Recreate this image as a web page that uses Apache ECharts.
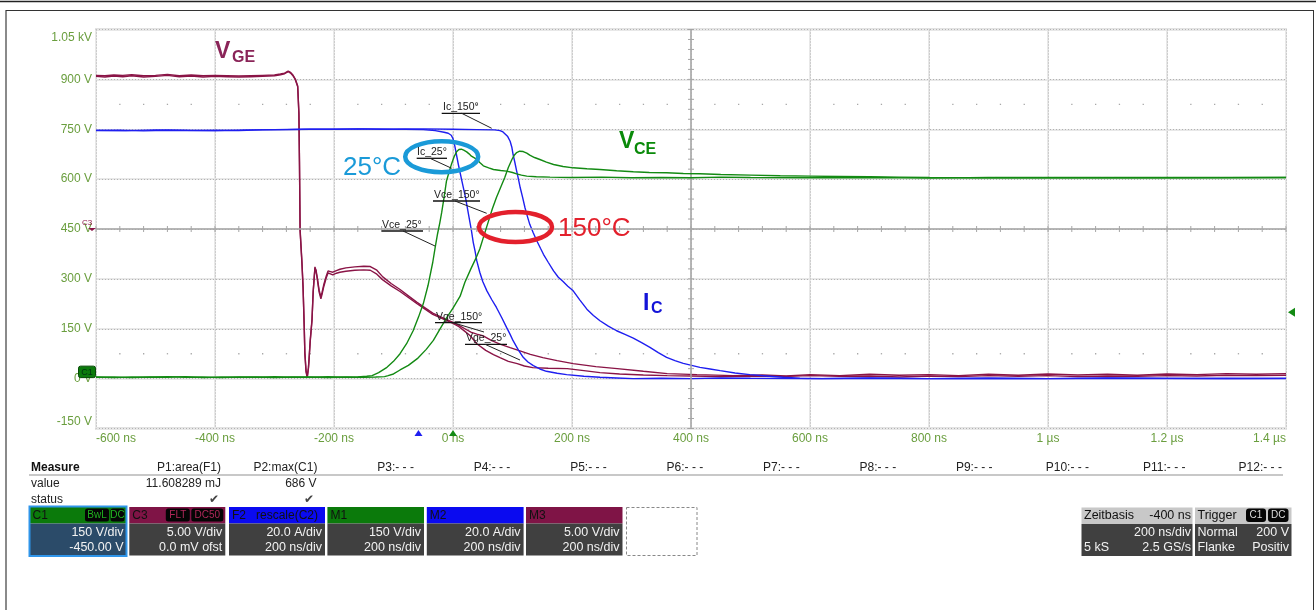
<!DOCTYPE html>
<html><head><meta charset="utf-8">
<script src="https://cdn.jsdelivr.net/npm/echarts@6/dist/echarts.min.js"></script>
<style>html,body{margin:0;padding:0;background:#fff}#c{width:1316px;height:610px}</style>
</head><body><div id="c"></div>
<script>
// ---------- axis ticks ----------
const xTicks = [-600,-400,-200,0,200,400,600,800,1000,1200,1400];
const xTickLabels = ['-600 ns','-400 ns','-200 ns','0 ns','200 ns','400 ns','600 ns','800 ns','1 µs','1.2 µs','1.4 µs'];
const yTicks = [-150,0,150,300,450,600,750,900,1050];
const yTickLabels = ['-150 V','0 V','150 V','300 V','450 V','600 V','750 V','900 V','1.05 kV'];

// ---------- traces [time ns, value in axis units] ----------
const vce25 = [[-600,4],[-570,5],[-540,3],[-510,5],[-480,4],[-450,6],[-420,3],[-390,5],[-360,4],[-330,5],[-300,3],[-270,5],[-240,4],[-210,6],[-180,4],[-160,5],[-145,7],[-136,9],[-125,18],[-111,34],[-100,52],[-89,75],[-78,105],[-67,144],[-58,185],[-50,225],[-42,280],[-34,350],[-30,394],[-26,435],[-22,470],[-19,500],[-15,545],[-11,594],[-6,625],[-2,648],[2,668],[6,682],[10,689],[14,690],[18,687],[23,682],[27,676],[31,669],[36,664],[40,659],[45,650],[51,640],[60,634],[68,629],[80,626],[90,624],[100,620],[107,616],[115,612],[124,609],[140,607],[163,606],[200,605],[250,606],[300,604],[350,605],[400,604],[450,606],[500,605],[600,604],[700,605],[800,603],[900,605],[1000,604],[1100,605],[1200,604],[1300,605],[1400,605]];
const vce150 = [[-600,5],[-570,3],[-540,5],[-510,4],[-480,6],[-450,4],[-420,5],[-390,3],[-360,5],[-330,4],[-300,6],[-270,4],[-240,5],[-210,3],[-180,5],[-150,4],[-130,5],[-115,6],[-109,9],[-100,14],[-89,26],[-75,40],[-60,60],[-45,88],[-33,115],[-22,149],[-10,185],[0,212],[12,248],[20,290],[30,330],[38,360],[45,390],[52,430],[59,470],[66,510],[73,545],[80,575],[87,605],[93,635],[99,659],[103,672],[107,680],[112,684],[118,683],[124,678],[129,672],[137,665],[146,659],[157,651],[169,644],[185,638],[202,634],[225,631],[247,629],[275,625],[303,622],[330,620],[359,619],[387,617],[415,616],[450,614],[500,612],[550,610],[600,609],[650,608],[700,607],[750,606],[800,605],[900,604],[1000,605],[1100,604],[1200,605],[1300,604],[1400,605]];
const ic25 = [[-600,746],[-560,747],[-520,745],[-480,747],[-440,746],[-400,747],[-360,746],[-320,748],[-280,749],[-240,750],[-200,750],[-160,751],[-120,750],[-80,750],[-50,749],[-30,746],[-15,741],[-8,738],[-3,732],[0,722],[3,700],[9,644],[15,594],[21,545],[26,495],[31,445],[34,410],[37,384],[40,354],[45,320],[50,292],[57,264],[65,238],[73,214],[82,183],[90,154],[96,133],[101,114],[110,86],[118,64],[126,50],[135,39],[146,29],[157,22],[175,16],[191,12],[220,7],[247,4],[275,2],[303,0],[350,1],[400,0],[450,2],[500,1],[600,0],[700,1],[800,0],[900,1],[1000,0],[1100,1],[1200,0],[1300,1],[1400,0]];
const ic150 = [[-600,747],[-550,746],[-500,748],[-450,747],[-400,746],[-350,748],[-300,749],[-250,750],[-200,750],[-150,751],[-100,750],[-50,751],[0,750],[40,749],[70,748],[79,746],[84,742],[87,738],[92,728],[96,714],[99,695],[101,674],[104,650],[107,624],[110,600],[113,574],[117,545],[121,514],[125,488],[129,464],[135,438],[141,414],[147,392],[152,374],[160,350],[169,324],[177,305],[185,292],[193,278],[202,264],[213,237],[225,209],[236,190],[247,174],[261,158],[275,144],[289,133],[303,122],[317,108],[331,94],[345,78],[359,64],[373,54],[387,46],[401,40],[415,34],[432,29],[449,24],[474,17],[499,12],[527,8],[555,4],[583,1],[620,0],[700,2],[800,0],[900,1],[1000,0],[1100,2],[1200,1],[1300,0],[1400,1]];
const vge25 = [[-600,909],[-585,907],[-570,910],[-555,908],[-540,911],[-520,907],[-500,909],[-480,912],[-460,908],[-440,910],[-420,907],[-400,909],[-380,908],[-360,907],[-340,908],[-320,909],[-300,911],[-290,914],[-283,917],[-277,923],[-273,919],[-269,911],[-265,899],[-261,878],[-259,795],[-258,640],[-257,444],[-254,350],[-252,273],[-250,150],[-249,75],[-247,20],[-245,3],[-243,30],[-242,54],[-240,110],[-237,174],[-235,260],[-232,333],[-230,326],[-228,298],[-225,260],[-222,240],[-220,254],[-217,278],[-213,303],[-210,318],[-206,315],[-202,312],[-196,317],[-190,320],[-180,323],[-165,326],[-150,327],[-139,326],[-128,314],[-118,297],[-104,279],[-89,262],[-75,244],[-61,226],[-47,209],[-34,193],[-17,180],[0,166],[10,156],[20,142],[29,129],[40,105],[55,85],[68,72],[79,63],[93,52],[108,45],[120,38],[134,33],[160,31],[192,30],[220,24],[247,18],[280,14],[320,11],[360,9],[400,8],[450,6],[500,8],[550,6],[600,9],[650,7],[700,8],[750,5],[800,8],[850,6],[900,9],[950,7],[1000,9],[1050,6],[1100,8],[1150,7],[1200,9],[1250,8],[1300,10],[1350,9],[1400,10]];
const vge150 = [[-600,912],[-585,911],[-570,913],[-555,912],[-540,914],[-520,911],[-500,912],[-480,915],[-460,911],[-440,913],[-420,911],[-400,912],[-380,911],[-360,910],[-340,911],[-320,912],[-300,913],[-290,916],[-283,919],[-277,925],[-273,921],[-269,913],[-265,901],[-261,880],[-259,800],[-258,650],[-257,450],[-254,355],[-252,278],[-250,155],[-249,80],[-247,25],[-245,5],[-243,33],[-242,58],[-240,115],[-237,178],[-235,262],[-232,336],[-230,330],[-228,303],[-225,266],[-222,246],[-220,260],[-217,284],[-213,309],[-210,324],[-206,322],[-202,320],[-196,325],[-190,329],[-180,333],[-165,336],[-150,338],[-139,337],[-128,326],[-118,306],[-104,286],[-89,268],[-75,249],[-61,230],[-47,213],[-34,197],[-17,183],[0,169],[10,160],[20,150],[30,140],[40,134],[50,129],[65,114],[80,103],[96,93],[115,82],[130,73],[151,63],[175,54],[202,45],[240,36],[276,30],[320,22],[360,15],[410,12],[471,9],[520,11],[560,8],[600,12],[650,9],[700,13],[750,10],[800,12],[850,9],[900,13],[950,10],[1000,14],[1050,11],[1100,13],[1150,10],[1200,14],[1250,12],[1300,15],[1350,13],[1400,15]];

// measurement panel texts
const measHeaders = ['P1:area(F1)','P2:max(C1)','P3:- - -','P4:- - -','P5:- - -','P6:- - -','P7:- - -','P8:- - -','P9:- - -','P10:- - -','P11:- - -','P12:- - -'];
const measValues = ['11.608289 mJ','686 V'];
const triggerLevel = 200;
const cursorTime = -58;

const FONT = "'Liberation Sans', Arial, sans-serif";
const LABEL_COLOR = '#6a9e3e';
const GREEN = '#138a13', BLUE = '#1f1ff0', MAROON = '#8a1446';

const chart = echarts.init(document.getElementById('c'), null, {renderer: 'canvas'});

const lab = {fontSize: 12, fontFamily: FONT, color: LABEL_COLOR};
const option = {
  animation: false,
  backgroundColor: '#fff',
  grid: {left: 96, top: 29.5, width: 1190, height: 399, show: true, borderColor: '#c6c6c6', borderWidth: 2, outerBoundsMode: 'none'},
  xAxis: [
    {type: 'value', min: -600, max: 1400, interval: 200,
     axisLine: {show: false}, axisTick: {show: false},
     splitLine: {show: true, lineStyle: {color: '#e8e8e8', width: 2}},
     axisLabel: Object.assign({margin: 4, showMinLabel: true, showMaxLabel: true,
       formatter: v => {
         const i = xTicks.indexOf(v); if (i < 0) return '';
         const s = xTickLabels[i];
         if (i === 0) return '{l|' + s + '}';
         if (i === xTicks.length - 1) return '{r|' + s + '}';
         return s;
       },
       rich: {l: Object.assign({padding: [0,0,0,40]}, lab), r: Object.assign({padding: [0,33,0,0]}, lab)}}, lab)},
    {type: 'value', min: -600, max: 1400, interval: 200, show: true,
     axisLine: {show: false}, axisTick: {show: false}, axisLabel: {show: false},
     splitLine: {show: true, lineStyle: {color: '#b2b2b2', width: 1, type: [1, 2]}}}
  ],
  yAxis: [
    {type: 'value', min: -150, max: 1050, interval: 150,
     axisLine: {show: false}, axisTick: {show: false},
     splitLine: {show: true, lineStyle: {color: '#e8e8e8', width: 2}},
     axisLabel: Object.assign({margin: 4, showMinLabel: true, showMaxLabel: true,
       formatter: v => {
         const i = yTicks.indexOf(v); if (i < 0) return '';
         const s = yTickLabels[i];
         if (i === 0) return '{b|' + s + '}';
         if (i === yTicks.length - 1) return '{t|' + s + '}';
         return s;
       },
       rich: {t: Object.assign({padding: [16,0,0,0]}, lab), b: Object.assign({padding: [0,0,14,0]}, lab)}}, lab)},
    {type: 'value', min: -150, max: 1050, interval: 150, show: true,
     axisLine: {show: false}, axisTick: {show: false}, axisLabel: {show: false},
     splitLine: {show: true, lineStyle: {color: '#b2b2b2', width: 1, type: [1, 2]}}}
  ],
  series: [
    {type: 'line', name: 'Vge 25', data: vge25, showSymbol: false, symbol: 'none', lineStyle: {color: MAROON, width: 1.4}, z: 3,
     markLine: {silent: true, symbol: 'none', label: {show: false}, lineStyle: {color: '#a6a6a6', width: 1.5, type: 'solid'},
       data: [{xAxis: 400}, {yAxis: 450}]}},
    {type: 'line', name: 'Vge 150', data: vge150, showSymbol: false, symbol: 'none', lineStyle: {color: MAROON, width: 1.4}, z: 3},
    {type: 'line', name: 'Ic 25', data: ic25, showSymbol: false, symbol: 'none', lineStyle: {color: BLUE, width: 1.4}, z: 4},
    {type: 'line', name: 'Ic 150', data: ic150, showSymbol: false, symbol: 'none', lineStyle: {color: BLUE, width: 1.4}, z: 4},
    {type: 'line', name: 'Vce 25', data: vce25, showSymbol: false, symbol: 'none', lineStyle: {color: GREEN, width: 1.4}, z: 5},
    {type: 'line', name: 'Vce 150', data: vce150, showSymbol: false, symbol: 'none', lineStyle: {color: GREEN, width: 1.4}, z: 5}
  ]
};
chart.setOption(option);

const px = (t, v) => chart.convertToPixel({xAxisIndex: 0, yAxisIndex: 0}, [t, v]);
const G = [];
function text(x, y, s, o) {
  o = o || {};
  G.push({type: 'text', x: x, y: y, z: o.z || 50, silent: true, style: {
    text: s, fill: o.fill || '#111', fontSize: o.size || 12, fontFamily: o.family || FONT,
    fontWeight: o.weight || 'normal', align: o.align || 'left', textAlign: o.align || 'left',
    verticalAlign: 'middle', textVerticalAlign: 'middle'}});
}
function rect(x, y, w, h, fill, o) {
  o = o || {};
  G.push({type: 'rect', z: o.z || 40, silent: true, shape: {x: x, y: y, width: w, height: h, r: o.r || 0},
    style: {fill: fill, stroke: o.stroke || null, lineWidth: o.lw || 0, lineDash: o.dash || null}});
}
function line(x1, y1, x2, y2, color, w, z) {
  G.push({type: 'line', z: z || 45, silent: true, shape: {x1: x1, y1: y1, x2: x2, y2: y2}, style: {stroke: color, lineWidth: w || 1}});
}
function poly(pts, fill, z) {
  G.push({type: 'polygon', z: z || 45, silent: true, shape: {points: pts}, style: {fill: fill}});
}

// center graticule ticks
for (let t = -600; t <= 1400; t += 40) { const p = px(t, 450); line(p[0], p[1] - 3, p[0], p[1] + 3, '#a6a6a6', 1, 2); }
for (let v = -150; v <= 1050; v += 30) { const p = px(400, v); line(p[0] - 3, p[1], p[0] + 3, p[1], '#a6a6a6', 1, 2); }
// quarter dots
[75, 825].forEach(v => { for (let t = -560; t < 1400; t += 40) { if (t % 200 === 0) continue; const p = px(t, v); rect(p[0] - 0.6, p[1] - 0.6, 1.3, 1.3, '#a8a8a8', {z: 2}); } });

// markers
(function () {
  const pb = px(cursorTime, -150); poly([[pb[0], pb[1] + 1.5], [pb[0] - 4, pb[1] + 7.5], [pb[0] + 4, pb[1] + 7.5]], '#1f1ff0', 60);
  const pg = px(0, -150); poly([[pg[0], pg[1] + 1.5], [pg[0] - 4, pg[1] + 7.5], [pg[0] + 4, pg[1] + 7.5]], '#138a13', 60);
  const pt = px(1400, triggerLevel); poly([[pt[0] + 2, pt[1]], [pt[0] + 9, pt[1] - 4.5], [pt[0] + 9, pt[1] + 4.5]], '#138a13', 60);
  const p0 = px(-600, 0);
  rect(p0[0] - 17.5, p0[1] - 12.5, 17, 11.5, '#0b7a0b', {r: 2, stroke: '#054a05', lw: 1, z: 60});
  text(p0[0] - 9, p0[1] - 6.5, 'C1', {size: 9, fill: '#031', align: 'center', z: 61});
  const p3 = px(-600, 450);
  text(p3[0] - 14, p3[1] - 6, 'C3', {size: 8, fill: MAROON, z: 61});
  poly([[p3[0] - 8, p3[1] - 1], [p3[0], p3[1] - 1], [p3[0] - 4, p3[1] + 2]], MAROON, 61);
})();

// trace annotations
text(215, 51.5, 'V', {size: 23, weight: 'bold', fill: '#8a2458'});
text(232, 57.5, 'GE', {size: 16, weight: 'bold', fill: '#8a2458'});
text(619, 142, 'V', {size: 23, weight: 'bold', fill: '#0a8a0a'});
text(634, 149.5, 'CE', {size: 16, weight: 'bold', fill: '#0a8a0a'});
text(643, 303.5, 'I', {size: 23, weight: 'bold', fill: '#1414d8'});
text(651, 308.5, 'C', {size: 16, weight: 'bold', fill: '#1414d8'});
text(343, 168, '25°C', {size: 26, fill: '#1a9ad8'});
text(558, 229, '150°C', {size: 26, fill: '#e3202c'});
G.push({type: 'ellipse', z: 55, silent: true, shape: {cx: 441.7, cy: 156.7, rx: 36.5, ry: 15.5}, style: {fill: null, stroke: '#1a9ad8', lineWidth: 4.5}});
G.push({type: 'ellipse', z: 55, silent: true, shape: {cx: 515.5, cy: 227, rx: 36.5, ry: 15}, style: {fill: null, stroke: '#e3202c', lineWidth: 4.5}});
[
  ['Ic_150°', 443, 107, 441.7, 480, 113.3, 461.7, 491.7, 128.3],
  ['Ic_25°', 417, 152, 416.7, 447, 158.3, 430, 451.7, 168.3],
  ['Vce_150°', 434, 195, 433, 480, 201, 455, 486.7, 213.3],
  ['Vce_25°', 382, 225, 381.7, 423, 231, 403, 435, 246],
  ['Vge_150°', 436, 317, 435, 482, 322.7, 453, 484, 332],
  ['Vge_25°', 466, 338, 465, 507, 344.3, 485, 520, 360]
].forEach(a => {
  text(a[1], a[2], a[0], {size: 10.5, fill: '#222', z: 56});
  line(a[3], a[5], a[4], a[5], '#111', 1.3, 56);
  line(a[6], a[5], a[7], a[8], '#222', 1, 56);
});

// frame
line(0, 1.5, 1316, 1.5, '#222', 1.5, 1);
line(6, 10, 6, 610, '#8a8a8a', 2, 1);
line(6, 10.5, 1314, 10.5, '#333', 1, 1);
line(1313.5, 10, 1313.5, 610, '#333', 1, 1);

// measure table
text(31, 467.5, 'Measure', {size: 12, weight: 'bold'});
measHeaders.forEach((h, i) => text(221 + i * 96.45, 467.5, h, {size: 12, align: 'right', fill: '#222'}));
line(29, 475, 1283, 475, '#c8c8c8', 2);
text(31, 484, 'value', {size: 12, fill: '#222'});
measValues.forEach((v, i) => text(221 + i * 95.5, 484, v, {size: 12, align: 'right', fill: '#222'}));
text(31, 500, 'status', {size: 12, fill: '#222'});
[219, 314].forEach(x => text(x, 500, '✔', {size: 12, align: 'right', fill: '#444', family: "'DejaVu Sans', sans-serif"}));

// channel boxes
function chanBox(x, w, head, headColor, headText, badges, badgeColor, l1, l2, body) {
  rect(x, 507, w, 16.5, headColor);
  rect(x, 523.5, w, 32, body || '#404040');
  text(x + 3, 515.5, headText, {size: 12, fill: '#111'});
  let bx = x + w - 2;
  for (let i = badges.length - 1; i >= 0; i--) {
    const bw = badges[i][1];
    bx -= bw;
    rect(bx, 508.5, bw, 13, '#050505', {r: 2.5});
    text(bx + bw / 2, 515.3, badges[i][0], {size: 10, fill: badgeColor, align: 'center'});
    bx -= 1.5;
  }
  text(x + w - 3, 532.5, l1, {size: 12.5, fill: '#f2f2f2', align: 'right'});
  text(x + w - 3, 547.5, l2, {size: 12.5, fill: '#f2f2f2', align: 'right'});
}
chanBox(29.5, 97, 'C1', '#0b7a0b', 'C1', [['BwL', 24], ['DC', 14]], '#21b021', '150 V/div', '-450.00 V', '#2b4b69');
G.push({type: 'rect', z: 48, silent: true, shape: {x: 29.5, y: 506.5, width: 97, height: 49.5}, style: {fill: null, stroke: '#2f95ea', lineWidth: 2}});
chanBox(129.3, 96, 'C3', '#7f1446', 'C3', [['FLT', 24], ['DC50', 32]], '#b0285a', '5.00 V/div', '0.0 mV ofst');
chanBox(229, 96, 'F2', '#0a0af0', 'F2   rescale(C2)', [], '#fff', '20.0 A/div', '200 ns/div');
chanBox(327.4, 96.6, 'M1', '#0b7a0b', 'M1', [], '#fff', '150 V/div', '200 ns/div');
chanBox(426.8, 96.8, 'M2', '#0a0af0', 'M2', [], '#fff', '20.0 A/div', '200 ns/div');
chanBox(526, 96.5, 'M3', '#7f1446', 'M3', [], '#fff', '5.00 V/div', '200 ns/div');
rect(626.5, 507.5, 70.5, 48, null, {stroke: '#888', lw: 1, dash: [3, 2]});

// timebase box
rect(1081.5, 507.5, 111, 16.5, '#c8c8c8');
rect(1081.5, 524, 111, 32, '#404040');
text(1084, 515.5, 'Zeitbasis', {size: 12.5, fill: '#111'});
text(1191, 515.5, '-400 ns', {size: 12.5, fill: '#111', align: 'right'});
text(1191, 532.5, '200 ns/div', {size: 12.5, fill: '#f2f2f2', align: 'right'});
text(1084, 547.5, '5 kS', {size: 12.5, fill: '#f2f2f2'});
text(1191, 547.5, '2.5 GS/s', {size: 12.5, fill: '#f2f2f2', align: 'right'});
// trigger box
rect(1195, 507.5, 96.5, 16.5, '#c8c8c8');
rect(1195, 524, 96.5, 32, '#404040');
text(1197.5, 515.5, 'Trigger', {size: 12.5, fill: '#111'});
rect(1246, 508.5, 20, 13.5, '#050505', {r: 3});
text(1256, 515.3, 'C1', {size: 10, fill: '#ddd', align: 'center'});
rect(1268, 508.5, 20.5, 13.5, '#050505', {r: 3});
text(1278.3, 515.3, 'DC', {size: 10, fill: '#ddd', align: 'center'});
text(1197.5, 532.5, 'Normal', {size: 12.5, fill: '#f2f2f2'});
text(1289, 532.5, '200 V', {size: 12.5, fill: '#f2f2f2', align: 'right'});
text(1197.5, 547.5, 'Flanke', {size: 12.5, fill: '#f2f2f2'});
text(1289, 547.5, 'Positiv', {size: 12.5, fill: '#f2f2f2', align: 'right'});

chart.setOption({graphic: {elements: G}});
</script>
</body></html>
